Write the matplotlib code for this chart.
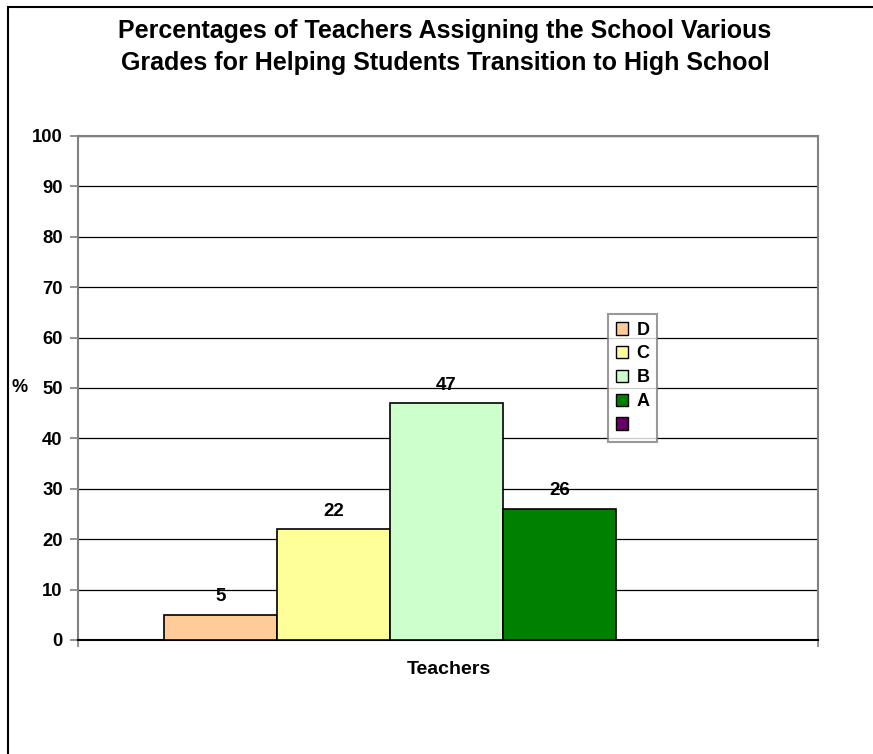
import matplotlib.pyplot as plt
from matplotlib.patches import Patch, Rectangle
import numpy as np

plt.rcParams['font.family'] = ['Liberation Sans', 'DejaVu Sans']
plt.rcParams['font.weight'] = 'bold'

grades = ['D', 'C', 'B', 'A', '']
values = [5, 22, 47, 26, np.nan]
colors = ['#FFCC99', '#FFFF99', '#CCFFCC', '#008000', '#660066']
category = 'Teachers'

fig = plt.figure(figsize=(8.73, 7.54), dpi=100)
ax = fig.add_axes([78/873, 1-640/754, 740/873, 504/754])

# outer chart frame (cut off at right and bottom)
fig.patches.append(Rectangle((8/873, -0.1), 1.2, 1.1 - 7/754, transform=fig.transFigure,
                             fill=False, edgecolor='black', lw=1.5))

barw = 113/740
x0 = (164 - 78)/740
handles = []
for i, (g, v, c) in enumerate(zip(grades, values, colors)):
    xc = x0 + barw*(i + 0.5)
    if not np.isnan(v):
        ax.bar(xc, v, width=barw, color=c, edgecolor='black', lw=1.2, zorder=3)
        ax.text(xc, v + 1.9, '%d' % v, ha='center', va='bottom', fontsize=13.5, fontweight='bold')
    handles.append(Patch(facecolor=c, edgecolor='black', label=g))

ax.set_xlim(0, 1)
ax.set_ylim(0, 100)
ax.set_yticks(np.arange(0, 101, 10))
ax.set_xticks([0, 1])
ax.set_xticklabels(['', ''])
ax.tick_params(axis='y', direction='out', length=6, width=1.2, color='#808080', labelsize=13.3, pad=5)
ax.tick_params(axis='x', direction='out', length=5, width=1.2, color='#808080')
for lab in ax.get_yticklabels():
    lab.set_fontweight('bold')
ax.grid(axis='y', color='black', lw=0.9, zorder=0)
ax.set_axisbelow(True)
for s in ['left', 'top', 'right']:
    ax.spines[s].set_color('#808080')
    ax.spines[s].set_linewidth(1.5)
ax.spines['bottom'].set_color('black')
ax.spines['bottom'].set_linewidth(1.5)

fig.text(449/873, 1-669/754, category, ha='center', va='center', fontsize=14, fontweight='bold')
fig.text(20/873, 1-388/754, '%', ha='center', va='center', fontsize=13, fontweight='bold')

fig.text(445/873, 1-47/754,
         'Percentages of Teachers Assigning the School Various\nGrades for Helping Students Transition to High School',
         ha='center', va='center', fontsize=18, fontweight='bold', linespacing=1.4)

leg = fig.legend(handles=handles, loc='upper left', bbox_to_anchor=(608/873, 1-314/754),
                 frameon=True, fancybox=False, edgecolor='#808080', fontsize=13,
                 handlelength=0.7, handleheight=0.7, handletextpad=0.45,
                 labelspacing=0.38, borderpad=0.42, borderaxespad=0)
leg.get_frame().set_linewidth(1.5)
for t in leg.get_texts():
    t.set_fontweight('bold')

fig.savefig('out.png', dpi=100)
